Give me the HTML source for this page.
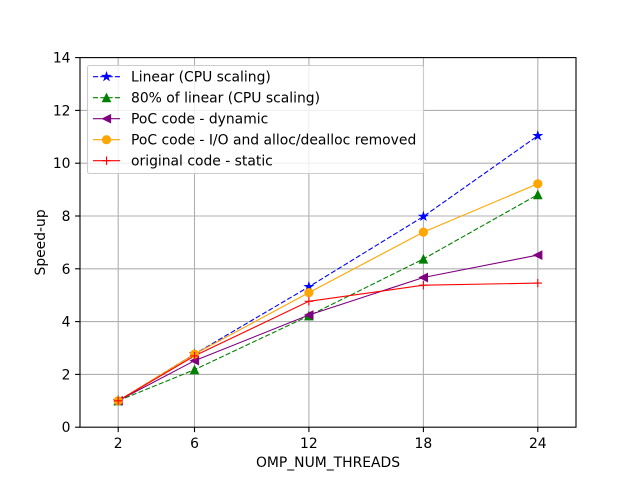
<!DOCTYPE html>
<html>
<head>
<meta charset="utf-8">
<style>
html,body{margin:0;padding:0;background:#fff;}
svg{display:block;}
text{font-family:"DejaVu Sans","Liberation Sans",sans-serif;font-size:13.9px;fill:#000;}
</style>
</head>
<body>
<svg width="640" height="480" viewBox="0 0 640 480" xmlns="http://www.w3.org/2000/svg">
<defs>
  <path id="star" d="M0,-4.5 L1.01,-1.39 L4.28,-1.39 L1.64,0.53 L2.65,3.64 L0,1.72 L-2.65,3.64 L-1.64,0.53 L-4.28,-1.39 L-1.01,-1.39 Z" fill="#0000ff" stroke="#0000ff" stroke-width="0.8" stroke-linejoin="miter"/>
  <path id="tri" d="M0,-4.2 L-4.2,4.2 L4.2,4.2 Z" fill="#008000" stroke="#008000" stroke-width="0.8"/>
  <path id="tril" d="M-4.2,0 L4.2,-4.2 L4.2,4.2 Z" fill="#800080" stroke="#800080" stroke-width="0.8"/>
  <circle id="circ" cx="0" cy="0" r="4.2" fill="#ffa500" stroke="#ffa500" stroke-width="0.8"/>
  <path id="plus" d="M-4.2,0 L4.2,0 M0,-4.2 L0,4.2" stroke="#ff0000" stroke-width="1.1" fill="none"/>
</defs>
<rect x="0" y="0" width="640" height="480" fill="#fff"/>

<!-- grid -->
<g stroke="#b0b0b0" stroke-width="1.1">
  <line x1="118.2" y1="57.6" x2="118.2" y2="427.2"/>
  <line x1="194.5" y1="57.6" x2="194.5" y2="427.2"/>
  <line x1="308.9" y1="57.6" x2="308.9" y2="427.2"/>
  <line x1="423.4" y1="57.6" x2="423.4" y2="427.2"/>
  <line x1="537.8" y1="57.6" x2="537.8" y2="427.2"/>
  <line x1="80" y1="374.4" x2="576" y2="374.4"/>
  <line x1="80" y1="321.6" x2="576" y2="321.6"/>
  <line x1="80" y1="268.8" x2="576" y2="268.8"/>
  <line x1="80" y1="216.0" x2="576" y2="216.0"/>
  <line x1="80" y1="163.2" x2="576" y2="163.2"/>
  <line x1="80" y1="110.4" x2="576" y2="110.4"/>
</g>

<!-- series -->
<g fill="none" stroke-width="1.1">
  <polyline points="118.2,400.8 194.5,354.1 308.9,286.8 423.4,216.5 537.8,135.8" stroke="#0000ff" stroke-dasharray="5.1,2.2"/>
  <polyline points="118.2,400.8 194.5,369.7 308.9,315.8 423.4,259.0 537.8,194.6" stroke="#008000" stroke-dasharray="5.1,2.2"/>
  <polyline points="118.2,400.8 194.5,360.7 308.9,315.0 423.4,277.5 537.8,255.1" stroke="#800080"/>
  <polyline points="118.2,400.8 194.5,354.1 308.9,292.6 423.4,232.1 537.8,183.8" stroke="#ffa500"/>
  <polyline points="118.2,400.8 194.5,355.9 308.9,301.3 423.4,285.2 537.8,283.1" stroke="#ff0000"/>
</g>
<g>
  <use href="#star" x="118.2" y="400.8"/><use href="#star" x="194.5" y="354.1"/><use href="#star" x="308.9" y="286.8"/><use href="#star" x="423.4" y="216.5"/><use href="#star" x="537.8" y="135.8"/>
  <use href="#tri" x="118.2" y="400.8"/><use href="#tri" x="194.5" y="369.7"/><use href="#tri" x="308.9" y="315.8"/><use href="#tri" x="423.4" y="259.0"/><use href="#tri" x="537.8" y="194.6"/>
  <use href="#tril" x="118.2" y="400.8"/><use href="#tril" x="194.5" y="360.7"/><use href="#tril" x="308.9" y="315.0"/><use href="#tril" x="423.4" y="277.5"/><use href="#tril" x="537.8" y="255.1"/>
  <use href="#circ" x="118.2" y="400.8"/><use href="#circ" x="194.5" y="354.1"/><use href="#circ" x="308.9" y="292.6"/><use href="#circ" x="423.4" y="232.1"/><use href="#circ" x="537.8" y="183.8"/>
  <use href="#plus" x="118.2" y="400.8"/><use href="#plus" x="194.5" y="355.9"/><use href="#plus" x="308.9" y="301.3"/><use href="#plus" x="423.4" y="285.2"/><use href="#plus" x="537.8" y="283.1"/>
</g>

<!-- axes frame -->
<rect x="80" y="57.6" width="496" height="369.6" fill="none" stroke="#000" stroke-width="1.1"/>

<!-- ticks -->
<g stroke="#000" stroke-width="1.1">
  <line x1="118.2" y1="427.2" x2="118.2" y2="432.1"/>
  <line x1="194.5" y1="427.2" x2="194.5" y2="432.1"/>
  <line x1="308.9" y1="427.2" x2="308.9" y2="432.1"/>
  <line x1="423.4" y1="427.2" x2="423.4" y2="432.1"/>
  <line x1="537.8" y1="427.2" x2="537.8" y2="432.1"/>
  <line x1="75.1" y1="427.2" x2="80" y2="427.2"/>
  <line x1="75.1" y1="374.4" x2="80" y2="374.4"/>
  <line x1="75.1" y1="321.6" x2="80" y2="321.6"/>
  <line x1="75.1" y1="268.8" x2="80" y2="268.8"/>
  <line x1="75.1" y1="216.0" x2="80" y2="216.0"/>
  <line x1="75.1" y1="163.2" x2="80" y2="163.2"/>
  <line x1="75.1" y1="110.4" x2="80" y2="110.4"/>
  <line x1="75.1" y1="57.6" x2="80" y2="57.6"/>
</g>

<!-- tick labels -->
<g text-anchor="middle">
  <text x="118.2" y="448">2</text>
  <text x="194.5" y="448">6</text>
  <text x="308.9" y="448">12</text>
  <text x="423.4" y="448">18</text>
  <text x="537.8" y="448">24</text>
</g>
<g text-anchor="end">
  <text x="70.5" y="432.2">0</text>
  <text x="70.5" y="379.4">2</text>
  <text x="70.5" y="326.6">4</text>
  <text x="70.5" y="273.8">6</text>
  <text x="70.5" y="221.0">8</text>
  <text x="70.5" y="168.2">10</text>
  <text x="70.5" y="115.4">12</text>
  <text x="70.5" y="62.6">14</text>
</g>

<text x="328" y="467" text-anchor="middle">OMP_NUM_THREADS</text>
<text transform="translate(45,242.4) rotate(-90)" text-anchor="middle">Speed-up</text>

<!-- legend -->
<rect x="87.5" y="65.5" width="336" height="108" rx="2" ry="2" fill="#fff" fill-opacity="0.8" stroke="#cccccc" stroke-width="1.1"/>
<g fill="none" stroke-width="1.1">
  <line x1="93" y1="76.7" x2="120" y2="76.7" stroke="#0000ff" stroke-dasharray="5.1,2.2"/>
  <line x1="93" y1="97.7" x2="120" y2="97.7" stroke="#008000" stroke-dasharray="5.1,2.2"/>
  <line x1="93" y1="118.7" x2="120" y2="118.7" stroke="#800080"/>
  <line x1="93" y1="139.7" x2="120" y2="139.7" stroke="#ffa500"/>
  <line x1="93" y1="160.7" x2="120" y2="160.7" stroke="#ff0000"/>
</g>
<use href="#star" x="106.5" y="76.7"/>
<use href="#tri" x="106.5" y="97.7"/>
<use href="#tril" x="106.5" y="118.7"/>
<use href="#circ" x="106.5" y="139.7"/>
<use href="#plus" x="106.5" y="160.7"/>
<g>
  <text x="131" y="81.7">Linear (CPU scaling)</text>
  <text x="131" y="102.7">80% of linear (CPU scaling)</text>
  <text x="131" y="123.7">PoC code - dynamic</text>
  <text x="131" y="144.7">PoC code - I/O and alloc/dealloc removed</text>
  <text x="131" y="165.7">original code - static</text>
</g>
</svg>
</body>
</html>
